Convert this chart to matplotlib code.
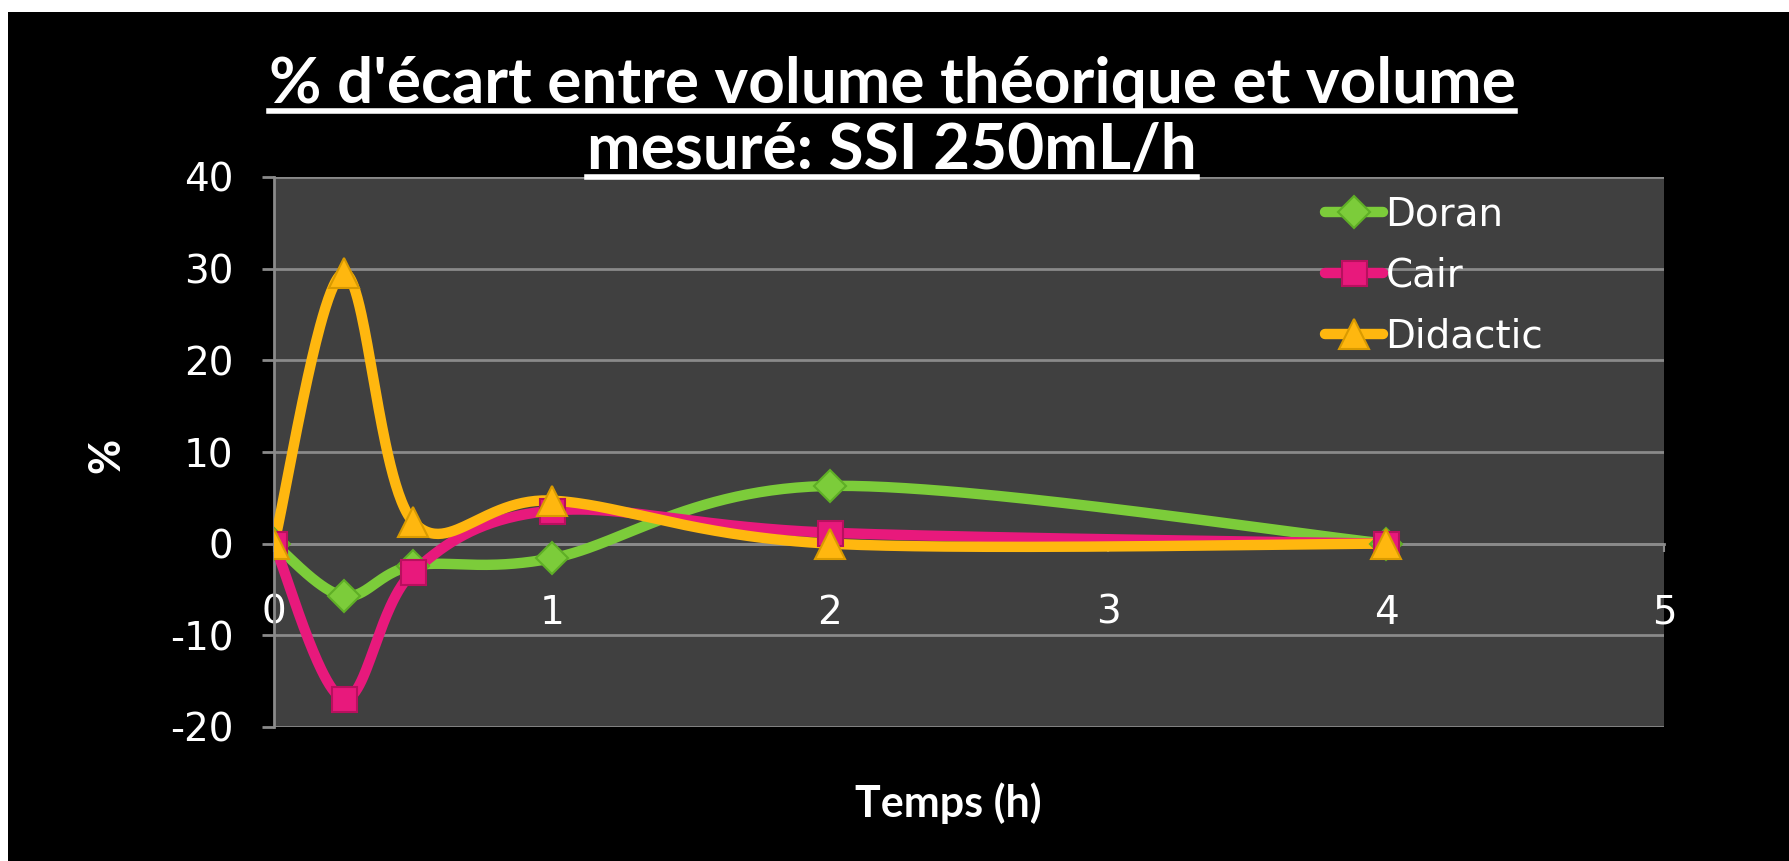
import numpy as np
import matplotlib
matplotlib.use("Agg")
import matplotlib.pyplot as plt
from matplotlib.patches import Rectangle
from matplotlib.lines import Line2D

# data
temps = [0, 0.25, 0.5, 1, 2, 4]
doran = [0, -5.7, -2.4, -1.6, 6.3, 0]
cair = [0, -16.9, -3.1, 3.6, 1.2, 0]
didactic = [0, 29.5, 2.4, 4.7, 0, 0]
series_names = ["Doran", "Cair", "Didactic"]
title_lines = ["% d'écart entre volume théorique et volume", "mesuré: SSI 250mL/h"]

plt.rcParams["axes.unicode_minus"] = False

W, H = 1789, 861
fig = plt.figure(figsize=(W / 100, H / 100), dpi=100, facecolor="white")
# black slide background (thin white band top and left like the capture)
fig.patches.append(Rectangle((8 / W, 0), 1 - 8 / W, 1 - 12 / H, transform=fig.transFigure,
                             facecolor="black", edgecolor="none", zorder=-5))

ax = fig.add_axes([274 / W, 1 - 727 / H, (1664 - 274) / W, (727 - 177) / H])
ax.set_facecolor("#404040")
ax.set_xlim(0, 5)
ax.set_ylim(-20, 40)

grid_c = "#8a8a8a"
ax.set_yticks(range(-20, 41, 10))
ax.set_xticks(range(0, 6))
ax.grid(axis="y", color=grid_c, lw=2, zorder=1)
for s in ("top", "right"):
    ax.spines[s].set_visible(False)
ax.spines["left"].set_color(grid_c)
ax.spines["left"].set_linewidth(2)
ax.spines["bottom"].set_position(("data", 0))
ax.spines["bottom"].set_color(grid_c)
ax.spines["bottom"].set_linewidth(2)
ax.tick_params(axis="y", colors=grid_c, length=9, width=2, pad=20,
               labelcolor="white", labelsize=28)
ax.tick_params(axis="x", colors=grid_c, length=6, width=1.5, pad=30,
               labelcolor="white", labelsize=28)
for lab in ax.get_xticklabels() + ax.get_yticklabels():
    lab.set_family("DejaVu Sans")


def smooth(xs, ys, n=60):
    # Excel-like smoothed line: Catmull-Rom Bezier built in screen space
    P = ax.transData.transform(np.column_stack([xs, ys]))
    out = []
    for i in range(len(P) - 1):
        p0 = P[i - 1] if i > 0 else P[i]
        p1, p2 = P[i], P[i + 1]
        p3 = P[i + 2] if i + 2 < len(P) else P[i + 1]
        c1 = p1 + (p2 - p0) / 6
        c2 = p2 - (p3 - p1) / 6
        t = np.linspace(0, 1, n)[:, None]
        seg = ((1 - t) ** 3) * p1 + 3 * ((1 - t) ** 2) * t * c1 + 3 * (1 - t) * t ** 2 * c2 + t ** 3 * p2
        out.append(seg if i == 0 else seg[1:])
    D = ax.transData.inverted().transform(np.vstack(out))
    return D[:, 0], D[:, 1]


styles = [
    (doran, "#7ccc3a", "D", "#5fae26", 16),
    (cair, "#e8197c", "s", "#b8105e", 18),
    (didactic, "#ffb70f", "^", "#d99a00", 21),
]
handles = []
for (vals, col, mk, edge, ms), name in zip(styles, series_names):
    sx, sy = smooth(temps, vals)
    ax.plot(sx, sy, color=col, lw=7.5, solid_capstyle="round", zorder=3)
    ax.plot(temps, vals, ls="none", marker=mk, ms=ms, mfc=col, mec=edge, mew=1.5, zorder=4)
    handles.append(Line2D([], [], color=col, lw=7.5, solid_capstyle="round",
                          marker=mk, ms=ms, mfc=col, mec=edge, mew=1.5, label=name))

leg = ax.legend(handles=handles, loc="upper left", bbox_to_anchor=(0.745, 0.995),
                frameon=False, fontsize=28, handlelength=1.5, handletextpad=0.05,
                labelspacing=0.6, borderaxespad=0)
for t in leg.get_texts():
    t.set_color("white")
    t.set_family("DejaVu Sans")

ax.set_xlabel("Temps (h)", color="white", fontsize=31, fontweight="bold", family="Lato")
ax.xaxis.set_label_coords(0.485, -0.10)
ax.set_ylabel("%", color="white", fontsize=31, fontweight="bold", family="Lato")
ax.yaxis.set_label_coords(-0.106, 0.493)

# title, two lines, each underlined
t1 = fig.text(892 / W, 1 - 103 / H, title_lines[0], ha="center", va="baseline",
              color="white", fontsize=46, fontweight="bold", family="Lato")
t2 = fig.text(892 / W, 1 - 169 / H, title_lines[1], ha="center", va="baseline",
              color="white", fontsize=46, fontweight="bold", family="Lato")
fig.canvas.draw()
r = fig.canvas.get_renderer()
for t in (t1, t2):
    bb = t.get_window_extent(r)
    y = t.get_position()[1] - 8 / H
    fig.add_artist(Line2D([bb.x0 / W, bb.x1 / W], [y, y], transform=fig.transFigure,
                          color="white", lw=4))

fig.savefig("out.png", dpi=100, facecolor=fig.get_facecolor())
